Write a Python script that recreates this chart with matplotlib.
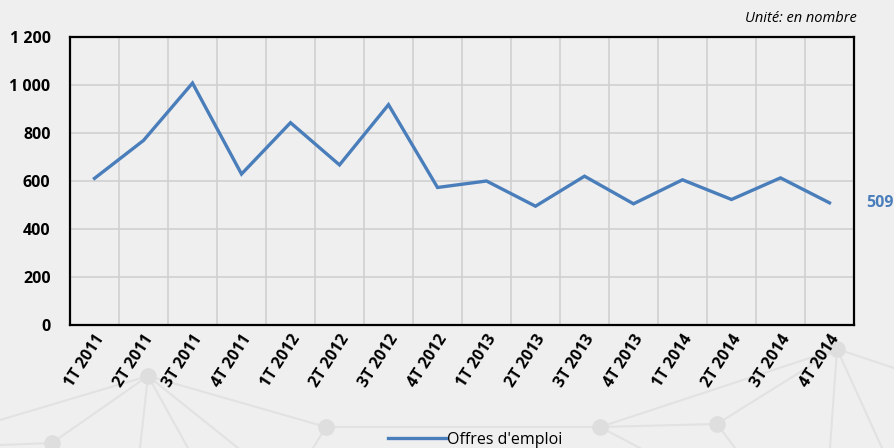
import matplotlib
matplotlib.use("Agg")
import matplotlib.pyplot as plt
from matplotlib.ticker import FuncFormatter, MultipleLocator
import numpy as np

quarters = ["1T 2011", "2T 2011", "3T 2011", "4T 2011",
            "1T 2012", "2T 2012", "3T 2012", "4T 2012",
            "1T 2013", "2T 2013", "3T 2013", "4T 2013",
            "1T 2014", "2T 2014", "3T 2014", "4T 2014"]
offres = [611, 769, 1008, 629, 843, 667, 918, 573,
          600, 495, 620, 505, 605, 523, 613, 509]
series_name = "Offres d'emploi"
unit_note = "Unité: en nombre"

bg = "#efefef"
blue = "#4a7ebb"
deco = "#e2e2e2"
font = ["Open Sans", "DejaVu Sans"]

fig = plt.figure(figsize=(8.94, 4.48), dpi=100, facecolor=bg)

# decorative network in the background (figure pixels)
deco_ax = fig.add_axes([0, 0, 1, 1], zorder=0)
deco_ax.set_xlim(0, 894)
deco_ax.set_ylim(448, 0)
deco_ax.axis("off")
nodes = {"a": (148, 376), "b": (52, 443), "c": (326, 427), "d": (600, 427),
         "e": (717, 424), "f": (837, 349)}
edges = [("a", "b"), ("a", "c"), ("c", "d"), ("d", "e"), ("d", "f"), ("e", "f")]
for p, q in edges:
    deco_ax.plot([nodes[p][0], nodes[q][0]], [nodes[p][1], nodes[q][1]],
                 color=deco, lw=1.5, zorder=0)
loose = [("a", (0, 420)), ("a", (140, 448)), ("a", (188, 448)), ("a", (238, 448)),
         ("b", (0, 445)), ("c", (313, 448)), ("d", (640, 448)), ("e", (735, 448)),
         ("f", (894, 368)), ("f", (830, 448)), ("f", (882, 448))]
for p, end in loose:
    deco_ax.plot([nodes[p][0], end[0]], [nodes[p][1], end[1]], color=deco, lw=1.5, zorder=0)
for x, y in nodes.values():
    deco_ax.plot(x, y, "o", ms=12, color="#dedede", mec="none", zorder=1)

ax = fig.add_axes([70 / 894, 1 - 325 / 448, 784 / 894, 288 / 448], zorder=2)
ax.set_facecolor(bg)
ax.patch.set_alpha(0.0)

x = np.arange(len(quarters))
ax.plot(x, offres, color=blue, lw=2.4, solid_joinstyle="miter", zorder=3)
ax.text(x[-1] + 0.74, offres[-1], f"{offres[-1]}", color=blue, fontsize=11.5,
        fontweight="bold", family=font, va="center", ha="left", clip_on=False)

ax.set_xlim(-0.5, len(quarters) - 0.5)
ax.set_ylim(0, 1200)
ax.yaxis.set_major_locator(MultipleLocator(200))
ax.yaxis.set_major_formatter(FuncFormatter(lambda v, p: f"{int(v):,}".replace(",", " ")))
ax.set_xticks(x)
ax.set_xticks(np.arange(-0.5, len(quarters)), minor=True)
ax.set_xticklabels(quarters, rotation=57, ha="right", rotation_mode="anchor",
                   fontsize=11.5, fontweight="bold", family=font)
for lab in ax.get_yticklabels():
    lab.set_fontweight("bold")
    lab.set_fontsize(11.5)
    lab.set_family(font)
ax.tick_params(axis="both", which="both", length=0)
ax.tick_params(axis="x", pad=5)
ax.tick_params(axis="y", pad=14)
ax.grid(True, axis="y", which="major", color="#d0d0d0", lw=1.2)
ax.grid(True, axis="x", which="minor", color="#d0d0d0", lw=1.2)
ax.set_axisbelow(True)
for s in ax.spines.values():
    s.set_color("black")
    s.set_linewidth(1.6)

fig.text(857 / 894, 1 - 18 / 448, unit_note, ha="right", va="center",
         fontsize=10.5, style="italic", family=font)

leg = fig.legend([plt.Line2D([], [], color=blue, lw=2.4)], [series_name],
                 loc="center", bbox_to_anchor=(0.532, 1 - 440 / 448), frameon=False,
                 handlelength=3.6, handletextpad=0.1, prop={"family": font, "size": 11.5})

fig.savefig("out.png", dpi=100, facecolor=bg)
